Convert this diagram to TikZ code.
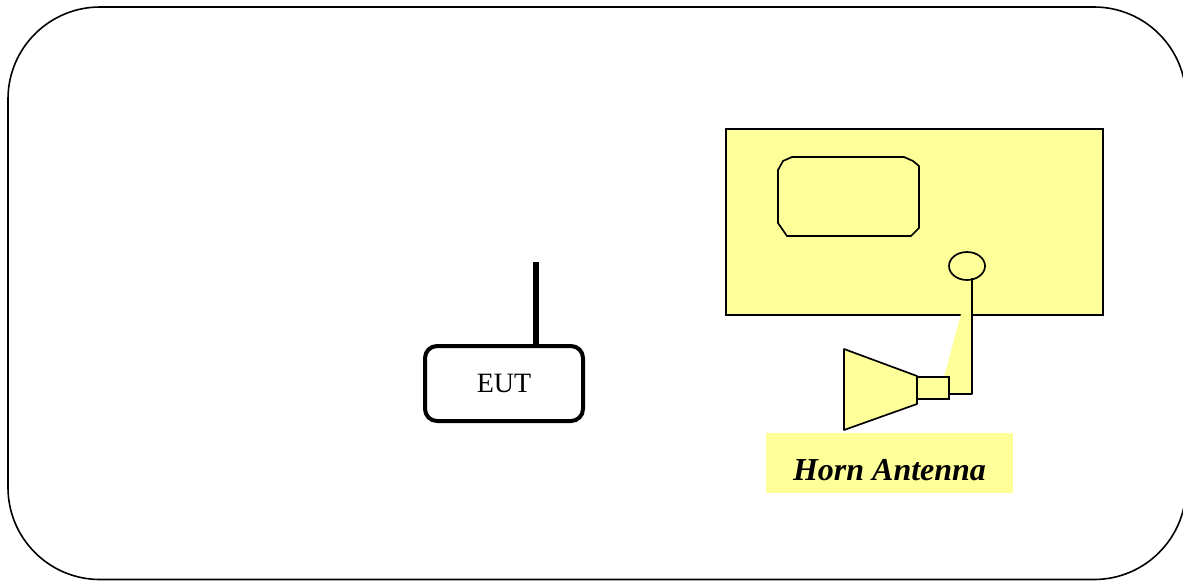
\documentclass[tikz,border=0pt]{standalone}
\usepackage{fontspec}
\setmainfont{Liberation Serif}
\usetikzlibrary{shapes.geometric,calc}
\definecolor{paleyellow}{HTML}{FFFF99}
\begin{document}
\begin{tikzpicture}[x=0.5pt,y=-0.5pt,
  frame/.style={draw=black,line width=0.8pt,rounded corners=46pt},
  eutbox/.style={draw=black,line width=2pt,rounded corners=6pt,minimum width=79pt,minimum height=37.5pt,inner sep=0pt,font=\fontsize{14pt}{16pt}\selectfont},
  antline/.style={draw=black,line width=2.8pt},
  instr/.style={draw=black,fill=paleyellow,line width=0.9pt,minimum width=188.5pt,minimum height=93pt,inner sep=0pt},
  thinline/.style={draw=black,line width=0.85pt,line join=round},
  portshape/.style={ellipse,draw=black,line width=0.85pt,fill=paleyellow,minimum width=18pt,minimum height=14pt,inner sep=0pt},
  adapt/.style={rectangle,draw=black,line width=0.85pt,fill=paleyellow,minimum width=16pt,minimum height=11pt,inner sep=0pt},
  tag/.style={fill=paleyellow,minimum width=123.5pt,minimum height=30pt,inner sep=0pt,text height=17pt,text depth=0pt,font=\fontsize{16pt}{18pt}\selectfont\bfseries\itshape}
]
\useasboundingbox (0,0) rectangle (1183,580);
\clip (0,0) rectangle (1183,580);
% outer frame
\draw[frame] (8,7) rectangle (1186,579.5);
% EUT
\node[eutbox] (eut) at (504,383.5) {EUT};
\coordinate (anttop) at (536,262);
\draw[antline] (anttop) -- (anttop |- eut.north);
% instrument
\node[instr] (instrument) at (914.5,222) {};
\draw[thinline] (778,170) -- (783,161) -- (792,157) -- (904,157) -- (913,161) -- (919,166) -- (919,228) -- (911,236) -- (787,236) -- (778,223) -- cycle;
% yellow wedge
\fill[paleyellow] (961,314) -- (972,314) -- (972,394) -- (949,394) -- (949,377) -- (944,377) -- cycle;
\node[portshape] (port) at (967,266) {};
% horn
\draw[thinline,fill=paleyellow] (844,349) -- (917,376) -- (917,404) -- (844,430) -- cycle;
\node[adapt] (adapter) at (933,388) {};
\draw[thinline] ($(port.south)+(5,-3)$) |- ($(adapter.east)+(0,6)$);
% label
\node[tag] (horntag) at (889.5,463) {Horn Antenna};
\end{tikzpicture}
\end{document}
